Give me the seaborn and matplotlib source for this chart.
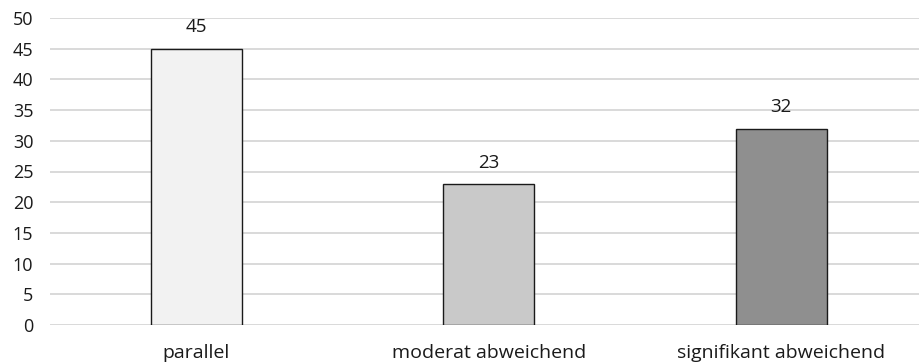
import matplotlib
matplotlib.use("Agg")
import matplotlib.pyplot as plt
import seaborn as sns
import pandas as pd

categories = ["parallel", "moderat abweichend", "signifikant abweichend"]
values = [45, 23, 32]
bar_colors = ["#f2f2f2", "#c9c9c9", "#8f8f8f"]
y_ticks = [0, 5, 10, 15, 20, 25, 30, 35, 40, 45, 50]

sns.set_theme(style="white")
plt.rcParams["font.family"] = ["Open Sans", "DejaVu Sans"]

df = pd.DataFrame({"Kategorie": categories, "Wert": values})

fig = plt.figure(figsize=(9.19, 3.64), dpi=100)
ax = fig.add_axes([50 / 919, 1 - 325 / 364, 1 - 50 / 919, (325 - 18) / 364])

sns.barplot(data=df, x="Kategorie", y="Wert", hue="Kategorie",
            palette=bar_colors, width=0.31, edgecolor="#1a1a1a",
            linewidth=1.0, legend=False, ax=ax, zorder=3)

ax.set_ylim(0, 50)
ax.set_xlim(-0.5, (919 - 50) / 292.5 - 0.5)
ax.set_yticks(y_ticks)
ax.yaxis.grid(True, color="#d9d9d9", linewidth=1.4, zorder=0)
ax.set_axisbelow(True)
for s in ax.spines.values():
    s.set_visible(False)
ax.set_xlabel("")
ax.set_ylabel("")
ax.tick_params(axis="both", length=0, colors="#1a1a1a")
ax.tick_params(axis="y", labelsize=13, pad=12)
ax.tick_params(axis="x", labelsize=14, pad=14)

for i, v in enumerate(values):
    ax.text(i, v + 2.0, str(v), ha="center", va="bottom",
            fontsize=13.5, color="#1a1a1a")

fig.savefig("out.png", dpi=100)
